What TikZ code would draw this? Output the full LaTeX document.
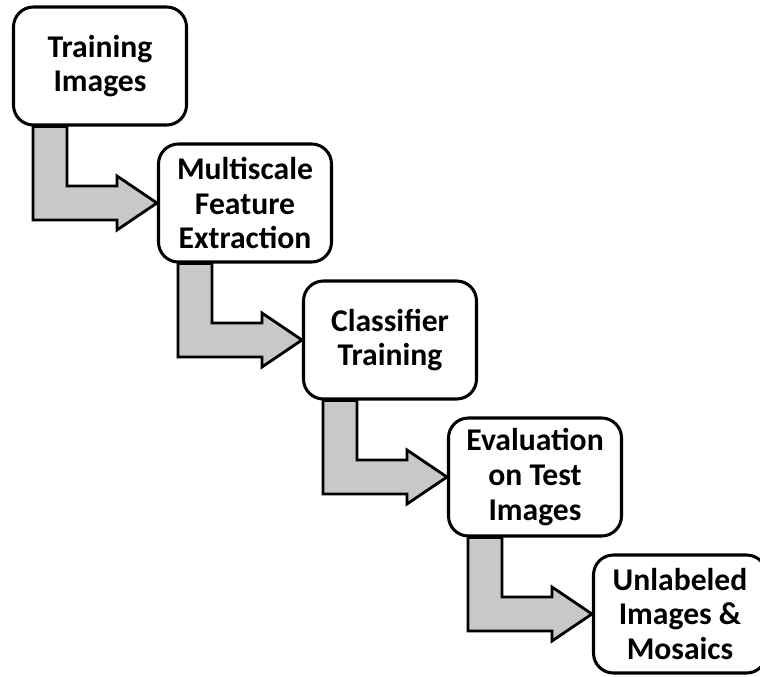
\documentclass[tikz,border=0pt]{standalone}
\usepackage{fontspec}
\setmainfont{Carlito}
\usetikzlibrary{calc,backgrounds}
\definecolor{arrowgray}{RGB}{200,200,200}
\tikzset{
  stage/.style={draw, line width=2.6pt, rounded corners=17pt, fill=white,
    minimum width=5.19cm, minimum height=3.54cm, align=center,
    font=\bfseries\fontsize{27}{29.5}\selectfont},
  flow/.style={draw, line width=2.4pt, fill=arrowgray, line join=miter},
}
\begin{document}
\begin{tikzpicture}[x=0.03cm, y=-0.03cm]
        \useasboundingbox (0, 0) rectangle (760, 677);

        \node[stage] (train) at (100, 66) {Training\\Images};
        \node[stage] (feat) at (245, 203) {Multiscale\\Feature\\Extraction};
        \node[stage] (clf) at (390, 340) {Classifier\\Training};
        \node[stage] (eval) at (535, 477) {Evaluation\\on Test\\Images};
        \node[stage] (unlab) at (680, 614) {Unlabeled\\Images \&\\Mosaics};

        % bent block arrows behind the boxes
        \begin{scope}[on background layer]
          \foreach \a/\b in {train/feat, feat/clf, clf/eval, eval/unlab}
            \draw[flow] ($(\a.south) + (-33, 0)$) |- ($(\b.west) + (-40, -17)$)
              -- ++(0, -10) -- (\b.west) -- ($(\b.west) + (-40, 27)$)
              -- ++(0, -10) -| ($(\a.south) + (-67, 0)$) -- cycle;
        \end{scope}
      \end{tikzpicture}
\end{document}
